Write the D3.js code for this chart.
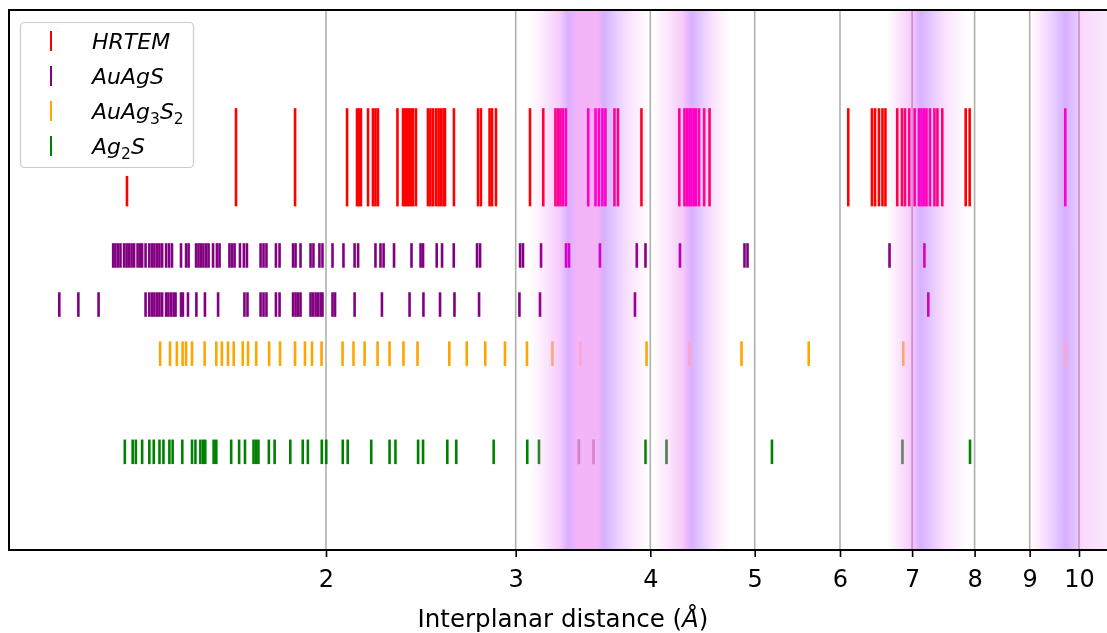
<!DOCTYPE html>
<html><head><meta charset="utf-8">
<script src="https://cdn.jsdelivr.net/npm/d3@7"></script>
<style>body{margin:0;background:#fff} svg{display:block} text{font-family:"DejaVu Sans",sans-serif}</style>
</head><body><svg id="c" width="1107" height="633"></svg>
<script>
// ---- data (interplanar distances, Å) ----
const hrtemMajor = [1.650, 1.872, 2.092, 2.137, 2.146, 2.155, 2.188, 2.211, 2.223, 2.235, 2.330, 2.358, 2.368, 2.378, 2.388, 2.398, 2.409, 2.424, 2.487, 2.500, 2.514, 2.530, 2.544, 2.557, 2.571, 2.579, 2.629, 2.768, 2.785, 2.837, 2.852, 2.876, 3.093, 3.182, 3.266, 3.284, 3.301, 3.319, 3.340, 3.503, 3.558, 3.584, 3.611, 3.634, 3.705, 3.733, 3.925, 4.256, 4.303, 4.326, 4.349, 4.368, 4.391, 4.410, 4.439, 4.488, 4.540, 6.107, 6.424, 6.466, 6.521, 6.570, 6.612, 6.781, 6.850, 6.894, 6.957, 7.038, 7.103, 7.141, 7.179, 7.218, 7.272, 7.342, 7.389, 7.466, 7.849, 7.916, 9.711];
const hrtemMinor = [1.307];
const auagsA = [1.269, 1.275, 1.282, 1.289, 1.299, 1.306, 1.313, 1.320, 1.327, 1.337, 1.344, 1.350, 1.360, 1.371, 1.379, 1.386, 1.394, 1.401, 1.409, 1.421, 1.430, 1.439, 1.467, 1.483, 1.491, 1.515, 1.523, 1.531, 1.539, 1.548, 1.556, 1.571, 1.584, 1.593, 1.627, 1.636, 1.645, 1.664, 1.678, 1.689, 1.739, 1.750, 1.761, 1.797, 1.811, 1.864, 1.874, 1.894, 1.935, 1.947, 1.972, 1.985, 2.028, 2.076, 2.126, 2.142, 2.223, 2.247, 2.262, 2.313, 2.401, 2.448, 2.461, 2.534, 2.563, 2.628, 2.762, 2.780, 3.028, 3.047, 3.167, 3.341, 3.362, 3.592, 3.886, 3.959, 4.262, 4.892, 4.924, 6.670, 7.186];
const auagsB = [1.131, 1.178, 1.230, 1.360, 1.371, 1.379, 1.386, 1.394, 1.401, 1.409, 1.421, 1.428, 1.436, 1.444, 1.450, 1.467, 1.473, 1.489, 1.516, 1.544, 1.588, 1.680, 1.691, 1.739, 1.750, 1.761, 1.797, 1.811, 1.864, 1.874, 1.884, 1.894, 1.935, 1.945, 1.956, 1.966, 1.977, 1.985, 2.028, 2.039, 2.126, 2.254, 2.391, 2.463, 2.552, 2.632, 2.774, 3.024, 3.160, 3.871, 7.246];
const auag3s2 = [1.403, 1.433, 1.454, 1.472, 1.483, 1.502, 1.543, 1.582, 1.601, 1.622, 1.642, 1.674, 1.693, 1.723, 1.771, 1.813, 1.872, 1.912, 1.941, 1.981, 2.072, 2.121, 2.172, 2.233, 2.291, 2.360, 2.432, 2.603, 2.702, 2.811, 2.932, 3.073, 3.245, 3.444, 3.968, 4.348, 4.861, 5.612, 6.869, 9.711];
const ag2s = [1.301, 1.323, 1.332, 1.350, 1.371, 1.384, 1.401, 1.413, 1.431, 1.441, 1.471, 1.502, 1.513, 1.529, 1.538, 1.545, 1.573, 1.582, 1.633, 1.661, 1.682, 1.713, 1.722, 1.731, 1.770, 1.792, 1.853, 1.903, 1.924, 1.982, 2.001, 2.073, 2.095, 2.203, 2.291, 2.320, 2.435, 2.461, 2.592, 2.642, 2.862, 3.075, 3.153, 3.433, 3.543, 3.959, 4.141, 5.188, 6.857, 7.922];
const tickValues = [2, 3, 4, 5, 6, 7, 8, 9, 10];
const bandRanges = [[3.09, 3.99], [4.02, 4.74], [6.63, 7.87], [9.0, 11.0]];
const xDomain = [1.0157, 10.617];
const yDomain = [-2, 9];

// ---- layout / style ----
const W = 1107, H = 633;
const L = 9, R = 1107, T = 10, B = 550;
const VIOLET = "#8000ff", PINK = "#d600e7", TINT = "#d800d4";
// band profiles: [offset, colour kind, alpha]
const bandStops = [
  [[0,"p",0],[0.11,"p",0.08],[0.25,"p",0.2],[0.32,"v",0.31],[0.40,"p",0.29],[0.57,"p",0.29],[0.62,"v",0.31],[0.72,"v",0.2],[0.85,"p",0.1],[1,"p",0]],
  [[0,"p",0],[0.2,"p",0.1],[0.38,"p",0.2],[0.5,"v",0.31],[0.62,"v",0.22],[0.8,"p",0.1],[1,"p",0]],
  [[0,"p",0],[0.15,"p",0.1],[0.3,"p",0.2],[0.42,"v",0.31],[0.55,"v",0.22],[0.72,"p",0.12],[1,"p",0]],
  [[0,"p",0],[0.12,"p",0.1],[0.28,"v",0.22],[0.38,"v",0.31],[0.5,"v",0.22],[0.55,"p",0.15],[0.8,"p",0.1],[1,"p",0.04]]
];

const rows = [
  {vals: hrtemMajor, color: "red", y0: 5, y1: 7},
  {vals: hrtemMinor, color: "red", y0: 5, y1: 5.62},
  {vals: auagsA, color: "purple", y0: 3.75, y1: 4.25},
  {vals: auagsB, color: "purple", y0: 2.75, y1: 3.25},
  {vals: auag3s2, color: "orange", y0: 1.75, y1: 2.25},
  {vals: ag2s, color: "green", y0: -0.25, y1: 0.25}
];

const svg = d3.select("#c");
svg.append("rect").attr("width", W).attr("height", H).attr("fill", "#fff");
const x = d3.scaleLog().domain(xDomain).range([L, R]);
const y = d3.scaleLinear().domain(yDomain).range([B, T]);
const defs = svg.append("defs");

// gradients
bandRanges.forEach((br, i) => {
  const gu = defs.append("linearGradient").attr("id","gu"+i).attr("x1","0").attr("x2","1").attr("y1","0").attr("y2","0");
  const gt = defs.append("linearGradient").attr("id","gt"+i).attr("x1","0").attr("x2","1").attr("y1","0").attr("y2","0");
  bandStops[i].forEach(s => {
    gu.append("stop").attr("offset", s[0]).attr("stop-color", s[1]==="v"?VIOLET:PINK).attr("stop-opacity", s[2]);
    gt.append("stop").attr("offset", s[0]).attr("stop-color", TINT).attr("stop-opacity", Math.min(1, s[2]/0.26));
  });
});

const plot = svg.append("g");
// grid
plot.selectAll("line.grid").data(tickValues).join("line").attr("class","grid")
  .attr("x1", d => x(d)).attr("x2", d => x(d)).attr("y1", T).attr("y2", B)
  .attr("stroke", "#b0b0b0").attr("stroke-width", 1.6);
// under-layer bands
plot.selectAll("rect.bu").data(bandRanges).join("rect").attr("class","bu")
  .attr("x", d => x(d[0])).attr("width", d => x(d[1]) - x(d[0]))
  .attr("y", T).attr("height", B - T).attr("fill", (d,i) => `url(#gu${i})`);
// event lines
rows.forEach(r => {
  plot.append("g").selectAll("line").data(r.vals).join("line")
    .attr("x1", d => x(d)).attr("x2", d => x(d))
    .attr("y1", y(r.y0)).attr("y2", y(r.y1))
    .attr("stroke", r.color).attr("stroke-width", 2.6);
});
// top tint layer
plot.selectAll("rect.bt").data(bandRanges).join("rect").attr("class","bt")
  .attr("x", d => x(d[0])).attr("width", d => x(d[1]) - x(d[0]))
  .attr("y", T).attr("height", B - T).attr("fill", (d,i) => `url(#gt${i})`)
  .style("mix-blend-mode", "lighten");

// spines
svg.append("line").attr("x1", L).attr("x2", R).attr("y1", T).attr("y2", T).attr("stroke","#000").attr("stroke-width",2);
svg.append("line").attr("x1", L).attr("x2", R).attr("y1", B).attr("y2", B).attr("stroke","#000").attr("stroke-width",2);
svg.append("line").attr("x1", L).attr("x2", L).attr("y1", T-1).attr("y2", B+1).attr("stroke","#000").attr("stroke-width",2);

// x axis
const ax = svg.append("g").attr("transform", `translate(0,${B})`)
  .call(d3.axisBottom(x).tickValues(tickValues).tickFormat(d3.format("d")).tickSize(7).tickPadding(8));
ax.select(".domain").remove();
ax.selectAll(".tick line").attr("stroke","#000").attr("stroke-width",1.6);
ax.selectAll(".tick text").attr("font-size", 24).attr("font-family","DejaVu Sans").attr("fill","#000").attr("dy", null).attr("y", 37);

const lab = svg.append("text").attr("x", 563).attr("y", 627).attr("text-anchor","middle").attr("font-size", 24.5).attr("fill","#000");
lab.append("tspan").text("Interplanar distance (");
lab.append("tspan").attr("font-style","italic").text("Å");
lab.append("tspan").text(")");

// legend
const lg = svg.append("g");
lg.append("rect").attr("x", 20.5).attr("y", 22.5).attr("width", 173).attr("height", 145).attr("rx", 4)
  .attr("fill", "#fff").attr("fill-opacity", 0.8).attr("stroke", "#cccccc").attr("stroke-width", 1.2);
const legItems = [
  {color: "red", parts: [["HRTEM", 0]]},
  {color: "purple", parts: [["AuAgS", 0]]},
  {color: "orange", parts: [["AuAg", 0], ["3", 1], ["S", 0], ["2", 1]]},
  {color: "green", parts: [["Ag", 0], ["2", 1], ["S", 0]]}
];
legItems.forEach((it, i) => {
  const cy = 41 + i * 35;
  lg.append("line").attr("x1", 51).attr("x2", 51).attr("y1", cy - 10).attr("y2", cy + 10).attr("stroke", it.color).attr("stroke-width", 2);
  const t = lg.append("text").attr("x", 92).attr("y", cy + 8).attr("font-size", 22).attr("font-style", "italic").attr("fill", "#000");
  let sub = false;
  it.parts.forEach(p => {
    const ts = t.append("tspan").text(p[0]);
    if (p[1] && !sub) { ts.attr("font-size", 15.5).attr("font-style","normal").attr("dy", 5); sub = true; }
    else if (p[1] && sub) { ts.attr("font-size", 15.5).attr("font-style","normal"); }
    else if (!p[1] && sub) { ts.attr("dy", -5); sub = false; }
  });
});
</script></body></html>
